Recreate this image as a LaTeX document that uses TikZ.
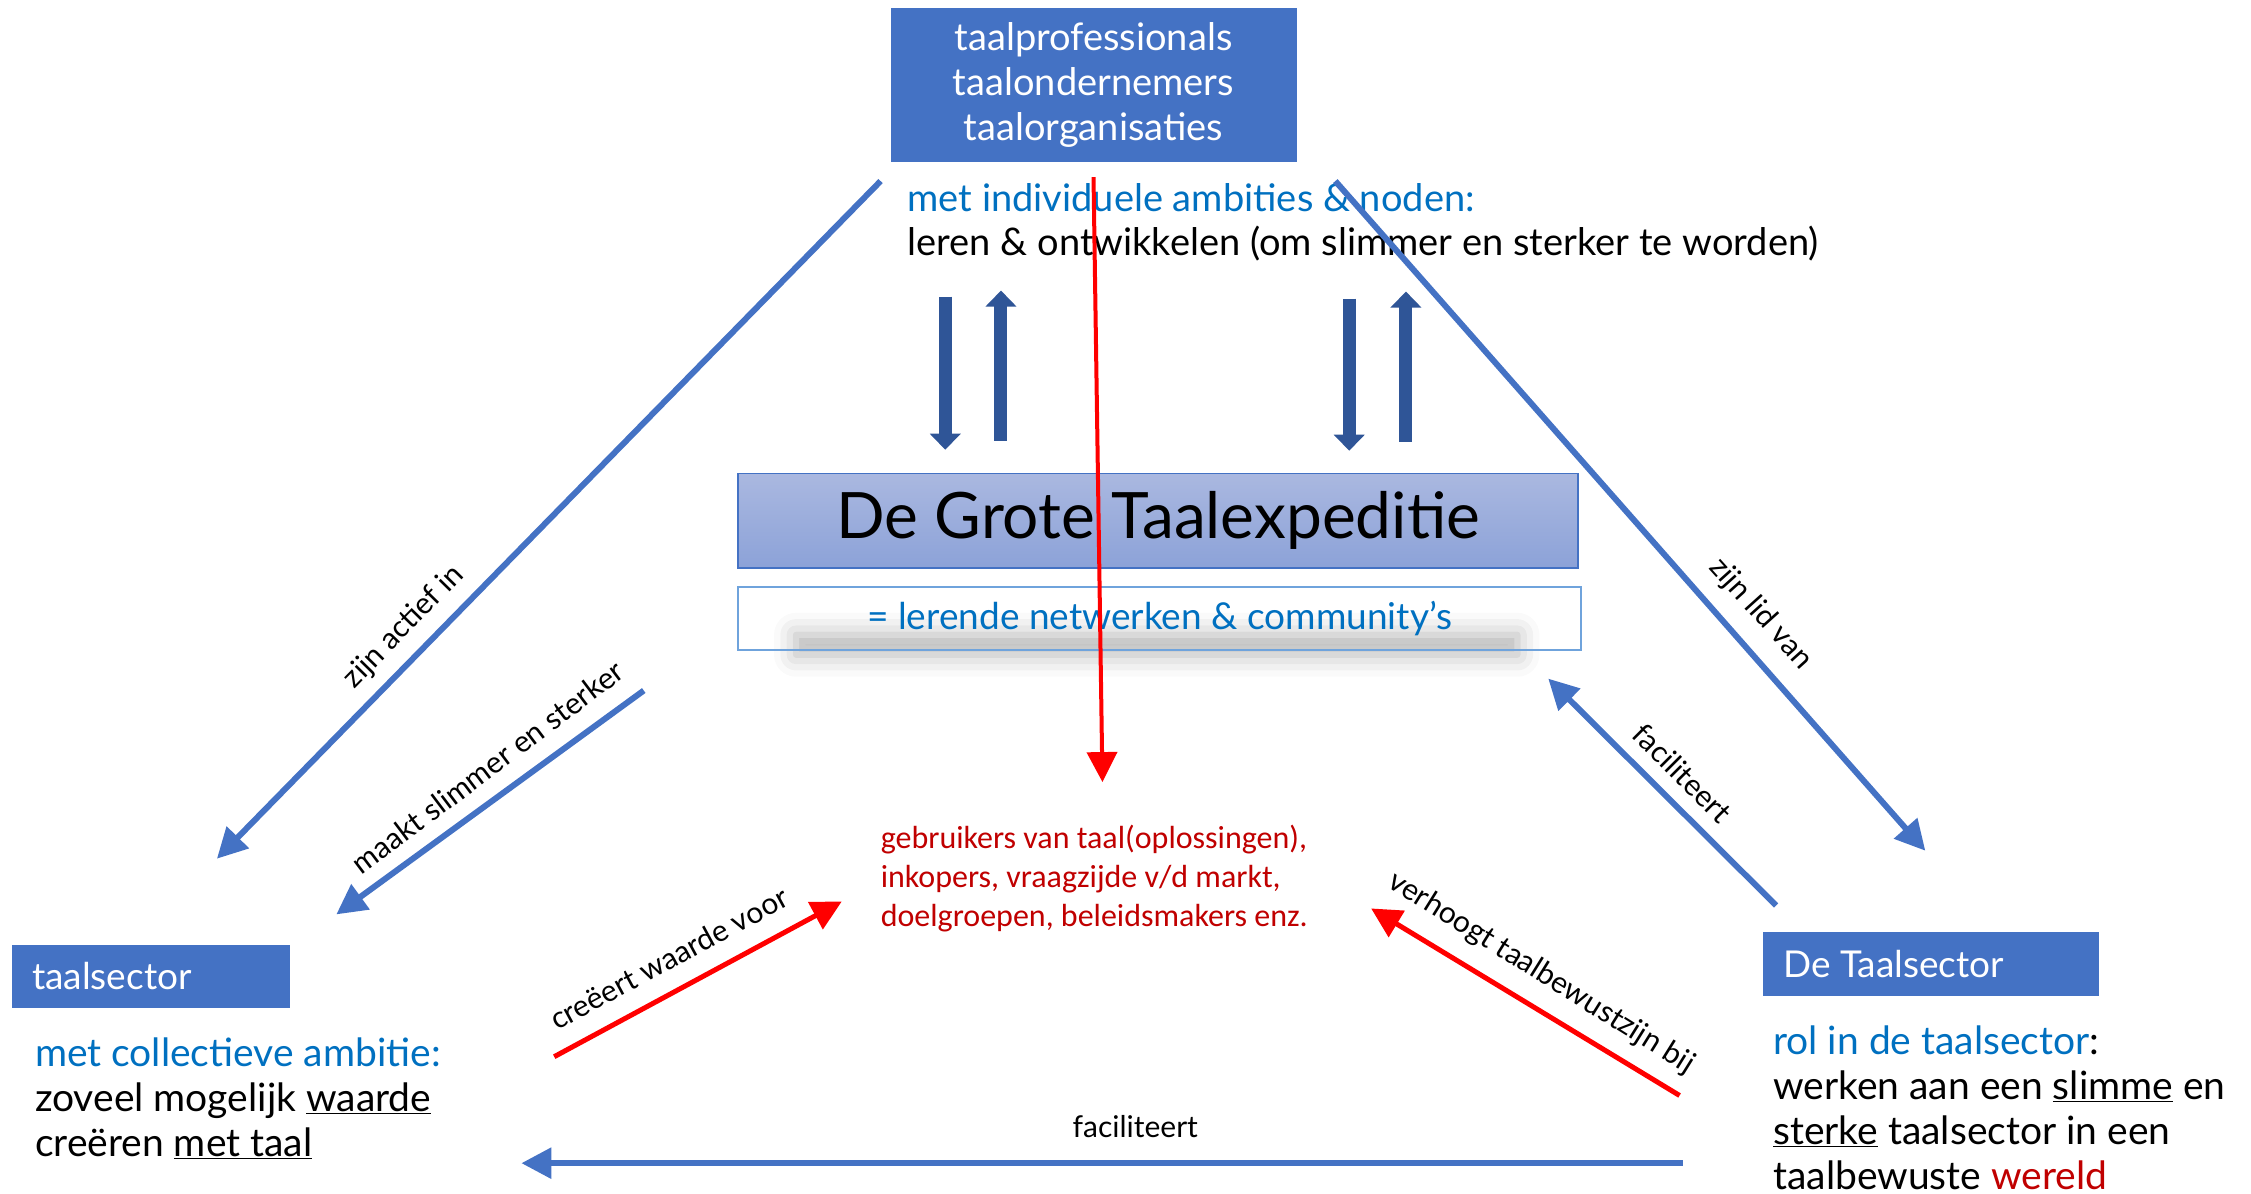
\documentclass[tikz,border=0pt]{standalone}
\usepackage{fontspec}
\setmainfont{Lato}
\newfontfamily\twfont{Lato}
\newfontfamily\labfont{Lato}
\newfontfamily\calfont{Carlito}
\usetikzlibrary{arrows.meta,shadows.blur}
\definecolor{boxblue}{HTML}{4472C4}
\definecolor{txtblue}{HTML}{0070C0}
\definecolor{darkred}{HTML}{C00000}
\definecolor{darkarrow}{HTML}{2F5597}
\definecolor{gradtop}{HTML}{AAB8E0}
\definecolor{gradbot}{HTML}{8CA2D8}
\definecolor{lightframe}{HTML}{6FA3DC}
\tikzset{
  solidbox/.style={fill=boxblue, draw=none, inner sep=0pt, text=white},
  twtext/.style={font=\twfont\fontsize{39}{45}\selectfont, inner sep=0pt, align=left},
  lab/.style={font=\labfont\fontsize{30}{32}\selectfont, inner sep=0pt},
  bluearrow/.style={draw=boxblue, line width=6pt, -{Triangle[length=30pt,width=30pt]}},
  redarrow/.style={draw=red, line width=5pt, -{Triangle[length=30pt,width=30pt]}},
  blockarrow/.style={draw=darkarrow, line width=13pt, -{Triangle[length=16pt,width=30pt]}},
}
\begin{document}
\begin{tikzpicture}[x=0.995pt,y=-0.995pt]
\useasboundingbox (0,0) rectangle (2262.3,1199);

% top box
\node[solidbox, minimum width=406pt, minimum height=154pt, align=center,
      font=\twfont\fontsize{38}{45}\selectfont] (top) at (1099,85)
  {taalprofessionals\\taalondernemers\\taalorganisaties};

\node[font=\twfont\fontsize{38}{44}\selectfont, inner sep=0pt, align=left, anchor=north west] (indiv) at (912,184)
  {\textcolor{txtblue}{met individuele ambities \& noden:}\\leren \& ontwikkelen (om slimmer en sterker te worden)};

% shadow of network box
\path[blur shadow={shadow xshift=0pt, shadow yshift=0pt, shadow blur radius=22pt, shadow opacity=30}]
  (800,638) rectangle (1525,658);

% middle boxes
\node[top color=gradtop, bottom color=gradbot, draw=boxblue, line width=1.5pt,
      minimum width=840pt, minimum height=94.5pt, inner sep=0pt,
      font=\twfont\fontsize{64}{70}\selectfont] (gte) at (1164,523.5) {De Grote Taalexpeditie};
\node[draw=lightframe, line width=2pt, minimum width=843pt, minimum height=62.7pt, inner sep=0pt,
      text=txtblue, font=\twfont\fontsize{37}{40}\selectfont] (net) at (1165.5,621.5)
  {= lerende netwerken \& community’s};

% red users text
\node[font=\calfont\fontsize{32}{39}\selectfont, text=darkred, align=left, inner sep=0pt, anchor=north west]
  (users) at (885,829)
  {gebruikers van taal(oplossingen),\\inkopers, vraagzijde v/d markt,\\doelgroepen, beleidsmakers enz.};

% left box
\node[solidbox, minimum width=278pt, minimum height=63pt] (ls) at (151.5,981.5) {};
\node[text=white, font=\twfont\fontsize{37}{44}\selectfont, inner sep=0pt, anchor=west] (lstxt) at (32,981) {taalsector};
\node[twtext, anchor=north west] (lsdesc) at (35,1043)
  {\textcolor{txtblue}{met collectieve ambitie:}\\zoveel mogelijk \underline{waarde}\\creëren \underline{met taal}};

% right box
\node[solidbox, minimum width=336pt, minimum height=64pt] (rs) at (1941,969) {};
\node[text=white, font=\twfont\fontsize{37}{44}\selectfont, inner sep=0pt, anchor=west] (rstxt) at (1792,969) {De Taalsector};
\node[twtext, anchor=north west] (rsdesc) at (1782,1031)
  {\textcolor{txtblue}{rol in de taalsector}:\\werken aan een \underline{slimme} en\\\underline{sterke} taalsector in een\\taalbewuste \textcolor{darkred}{wereld}};

% coordinates for free ends
\coordinate (rA) at (1099,178);
\coordinate (rB) at (1108,786);
\coordinate (bl1a) at (885,182);  \coordinate (bl1b) at (218,863);
\coordinate (bl2a) at (647,694);  \coordinate (bl2b) at (338,919);
\coordinate (br1a) at (1342,182); \coordinate (br1b) at (1935,855);
\coordinate (br2a) at (1785,910); \coordinate (br2b) at (1556,682);
\coordinate (bba) at (1691,1169); \coordinate (bbb) at (524,1169);
\coordinate (rd1a) at (557,1062); \coordinate (rd1b) at (846,906);
\coordinate (rd2a) at (1688,1101); \coordinate (rd2b) at (1378,913);
\coordinate (d1a) at (950,298);  \coordinate (d1b) at (950,452);
\coordinate (u1a) at (1006,443); \coordinate (u1b) at (1006,292);
\coordinate (d2a) at (1356,300); \coordinate (d2b) at (1356,453);
\coordinate (u2a) at (1413,444); \coordinate (u2b) at (1413,293);

% block arrows
\draw[blockarrow] (d1a) -- (d1b);
\draw[blockarrow] (u1a) -- (u1b);
\draw[blockarrow] (d2a) -- (d2b);
\draw[blockarrow] (u2a) -- (u2b);

% red vertical arrow
\draw[draw=red, line width=4pt, -{Triangle[length=30pt,width=30pt]}] (rA) -- (rB);

% blue connectors
\draw[bluearrow] (bl1a) -- (bl1b);
\draw[bluearrow] (bl2a) -- (bl2b);
\draw[bluearrow] (br1a) -- (br1b);
\draw[bluearrow] (br2a) -- (br2b);
\draw[bluearrow] (bba) -- (bbb);

% red connectors
\draw[redarrow] (rd1a) -- (rd1b);
\draw[redarrow] (rd2a) -- (rd2b);

% labels
\node[lab, rotate=45.6] (l1) at (406,630) {zijn actief in};
\node[lab, rotate=37] (l2) at (490,771) {maakt slimmer en sterker};
\node[lab, rotate=-48] (l3) at (1770,617) {zijn lid van};
\node[lab, rotate=-45] (l4) at (1691,777) {faciliteert};
\node[lab, rotate=28.4] (l5) at (672,963) {creëert waarde voor};
\node[lab, rotate=-32] (l6) at (1549,978) {verhoogt taalbewustzijn bij};
\node[lab] (l7) at (1141,1132) {faciliteert};
\end{tikzpicture}
\end{document}
